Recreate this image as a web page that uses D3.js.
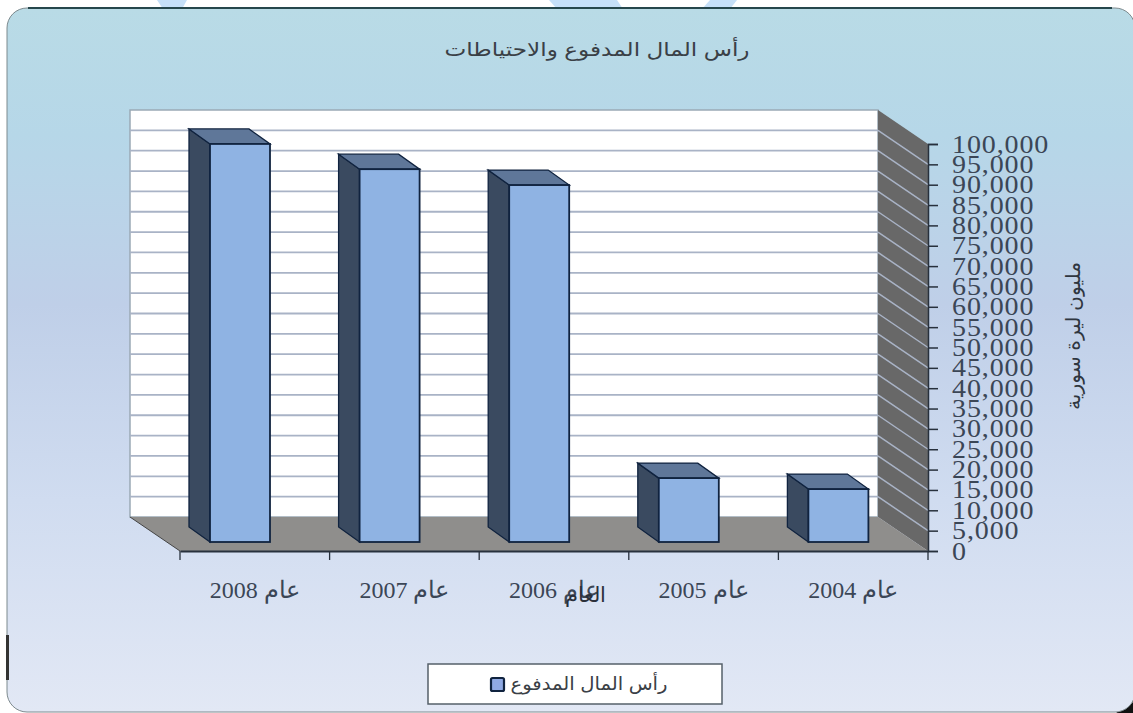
<!DOCTYPE html>
<html><head><meta charset="utf-8">
<script src="https://cdn.jsdelivr.net/npm/d3@7/dist/d3.min.js"></script>
<style>html,body{margin:0;padding:0;background:#fff;overflow:hidden}svg{display:block}</style></head>
<body><svg id="c" width="1133" height="713"></svg>
<script>
const categories = ["عام 2008","عام 2007","عام 2006","عام 2005","عام 2004"];
const paidCapital = [97800, 91600, 87700, 15700, 13000];
const yTicks = d3.range(0, 100001, 5000);
const titleText = "رأس المال المدفوع والاحتياطات";
const yTitleText = "مليون ليرة سورية";
const legendText = "رأس المال المدفوع";
const overprintText = "العام";

const serif = "'Liberation Serif','DejaVu Serif',serif";
const sans = "'Liberation Sans','DejaVu Sans',sans-serif";
const svg = d3.select("#c");
const defs = svg.append("defs");
const g = defs.append("linearGradient").attr("id","bg").attr("x1",0).attr("y1",0).attr("x2",0).attr("y2",1);
[[0,"#b9dbe6"],[0.18,"#b6d7e8"],[0.42,"#bfcfe8"],[0.7,"#d0dcf0"],[1,"#e2e8f5"]].forEach(s=>g.append("stop").attr("offset",s[0]).attr("stop-color",s[1]));

// decorative shapes behind the panel
[[[157,0],[187,0],[182,9],[163,9]],[[549,0],[617,0],[623,9],[557,9]],[[710,0],[737,0],[730,9],[702,9]]].forEach(p=>
  svg.append("polygon").attr("points",p.join(" ")).attr("fill","#c6e0f8"));
svg.append("polygon").attr("points","1116,713 1133,713 1133,702").attr("fill","#111");

svg.append("rect").attr("x",7).attr("y",8).attr("width",1128).attr("height",704).attr("rx",20)
  .attr("fill","url(#bg)").attr("stroke","#7d8a8e").attr("stroke-width",1);
svg.append("line").attr("x1",28).attr("x2",1112).attr("y1",8).attr("y2",8).attr("stroke","#26474c").attr("stroke-width",2);
svg.append("rect").attr("x",6).attr("y",635).attr("width",3).attr("height",45).attr("fill","#333");

const x = d3.scaleBand().domain(categories).range([180,928]);
const y = d3.scaleLinear().domain([0,100000]).range([551,144]);
const dx = 50, dy = 34;      // depth of the chart box
const bdx = 21, bdy = 15;    // depth of each bar
const baseY = 9;             // front face of bars sits behind the front plane
const barW = 60, barIn = 30;

// back wall
svg.append("polygon").attr("points",[[x.range()[0]-dx,y(100000)-dy],[x.range()[1]-dx,y(100000)-dy],[x.range()[1]-dx,y(0)-dy],[x.range()[0]-dx,y(0)-dy]].join(" "))
  .attr("fill","#fff").attr("stroke","#9aa9b5").attr("stroke-width",1.5);
// side wall
svg.append("polygon").attr("points",[[x.range()[1]-dx,y(100000)-dy],[x.range()[1],y(100000)],[x.range()[1],y(0)],[x.range()[1]-dx,y(0)-dy]].join(" ")).attr("fill","#686868");
// floor
svg.append("polygon").attr("points",[[x.range()[0]-dx,y(0)-dy],[x.range()[1]-dx,y(0)-dy],[x.range()[1],y(0)],[x.range()[0],y(0)]].join(" ")).attr("fill","#8f8e8c");
svg.append("line").attr("x1",x.range()[0]-dx).attr("y1",y(0)-dy).attr("x2",x.range()[0]).attr("y2",y(0)).attr("stroke","#444").attr("stroke-width",1);

// gridlines
yTicks.filter(t=>t>0&&t<100000).forEach(t=>{
  svg.append("line").attr("x1",x.range()[0]-dx).attr("x2",x.range()[1]-dx).attr("y1",y(t)-dy).attr("y2",y(t)-dy).attr("stroke","#a9b3c6").attr("stroke-width",1.8);
  svg.append("line").attr("x1",x.range()[1]-dx).attr("x2",x.range()[1]).attr("y1",y(t)-dy).attr("y2",y(t)).attr("stroke","#a9b3c6").attr("stroke-width",1.5);
});

// bars
const bars = svg.append("g").selectAll("g").data(categories.map((c,i)=>({c,v:paidCapital[i]}))).join("g");
const edge = "#10233f";
bars.append("polygon").attr("fill","#3a4a60").attr("stroke",edge).attr("stroke-width",1.3)
  .attr("points",d=>{const l=x(d.c)+barIn,t=y(d.v)-baseY,b=y(0)-baseY;return [[l,t],[l-bdx,t-bdy],[l-bdx,b-bdy],[l,b]].join(" ")});
bars.append("polygon").attr("fill","#5f7799").attr("stroke",edge).attr("stroke-width",1.3)
  .attr("points",d=>{const l=x(d.c)+barIn,t=y(d.v)-baseY;return [[l,t],[l-bdx,t-bdy],[l-bdx+barW,t-bdy],[l+barW,t]].join(" ")});
bars.append("rect").attr("fill","#8fb3e3").attr("stroke",edge).attr("stroke-width",1.8)
  .attr("x",d=>x(d.c)+barIn).attr("width",barW).attr("y",d=>y(d.v)-baseY).attr("height",d=>y(0)-y(d.v));

// y axis
const tickStretch = 1.12;
const yAxis = d3.axisRight(y).tickValues(yTicks).tickSize(10).tickFormat(d3.format(","));
const ya = svg.append("g").attr("transform",`translate(${x.range()[1]},0)`).call(yAxis);
ya.selectAll("path,line").attr("stroke","#27303c").attr("stroke-width",1.5);
ya.selectAll("text").attr("font-family",serif).attr("font-size",25).attr("fill","#3b4656").attr("letter-spacing",0.8)
  .attr("transform",`scale(${tickStretch},1)`).attr("x",24/tickStretch);

// x axis
const xAxis = d3.axisBottom(x).tickValues([]).tickSize(0);
const xa = svg.append("g").attr("transform",`translate(0,${y(0)})`).call(xAxis);
xa.selectAll("path").attr("stroke","#27303c").attr("stroke-width",1.8);
svg.append("g").selectAll("line").data(categories.concat([null])).join("line")
  .attr("x1",(d,i)=>x.range()[0]+i*x.step()).attr("x2",(d,i)=>x.range()[0]+i*x.step())
  .attr("y1",y(0)).attr("y2",y(0)+9).attr("stroke","#27303c").attr("stroke-width",1.3);
svg.append("g").selectAll("text").data(categories).join("text")
  .attr("x",d=>x(d)+x.bandwidth()/2).attr("y",598).attr("text-anchor","middle").attr("direction","rtl")
  .attr("font-family",serif).attr("font-size",24).attr("letter-spacing",0.8).attr("fill","#3b4656").text(d=>d);
svg.append("text").attr("x",x(categories[2])+x.bandwidth()/2+31).attr("y",602).attr("text-anchor","middle").attr("direction","rtl")
  .attr("font-family",serif).attr("font-size",21).attr("fill","#2a303a").text(overprintText);

// titles
svg.append("text").attr("x",597).attr("y",56).attr("text-anchor","middle").attr("direction","rtl")
  .attr("textLength",305).attr("lengthAdjust","spacingAndGlyphs")
  .attr("font-family",sans).attr("font-size",19).attr("fill","#3a4046").text(titleText);
svg.append("text").attr("transform","translate(1075,336) rotate(-90)").attr("text-anchor","middle").attr("direction","rtl")
  .attr("textLength",148).attr("lengthAdjust","spacingAndGlyphs")
  .attr("dominant-baseline","middle").attr("font-family",sans).attr("font-size",20).attr("fill","#2f3640").text(yTitleText);

// legend
svg.append("rect").attr("x",428).attr("y",664).attr("width",294).attr("height",40).attr("fill","#fff").attr("stroke","#55606a").attr("stroke-width",1.5);
svg.append("rect").attr("x",491).attr("y",678).attr("width",13).attr("height",13).attr("rx",1.5).attr("fill","#8fa9e3").attr("stroke",edge).attr("stroke-width",2.2);
svg.append("text").attr("x",589).attr("y",690).attr("text-anchor","middle").attr("direction","rtl")
  .attr("textLength",157).attr("lengthAdjust","spacingAndGlyphs")
  .attr("font-family",sans).attr("font-size",18).attr("fill","#3a4046").text(legendText);
</script></body></html>
